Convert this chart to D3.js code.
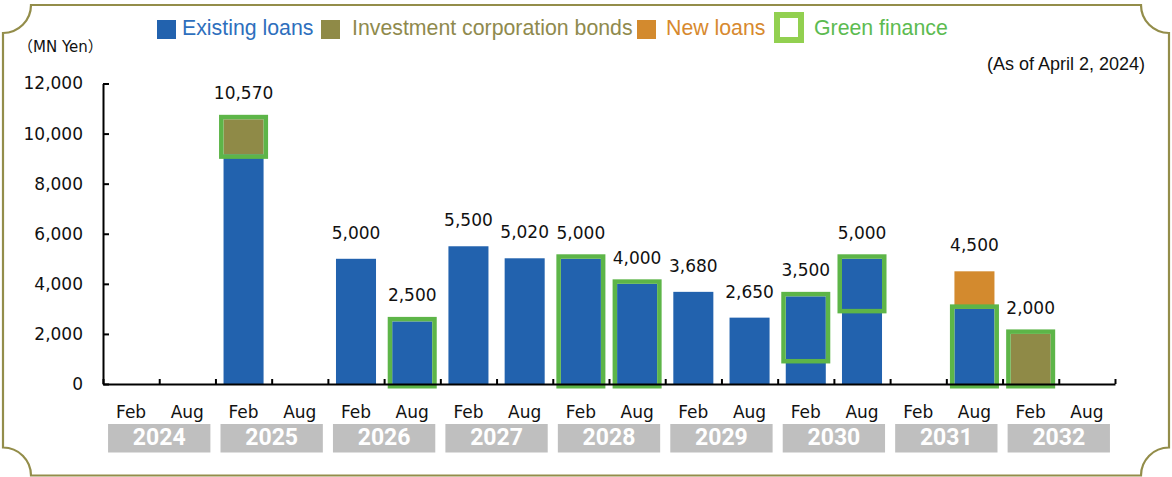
<!DOCTYPE html>
<html>
<head>
<meta charset="utf-8">
<script src="https://cdn.jsdelivr.net/npm/d3@7/dist/d3.min.js"></script>
<style>
  html, body { margin: 0; padding: 0; background: #fff; }
  svg { display: block; }
</style>
</head>
<body>
<svg id="chart" width="1172" height="477"></svg>
<script>
// ---------------- DATA ----------------
const years = ["2024", "2025", "2026", "2027", "2028", "2029", "2030", "2031", "2032"];
const halves = ["Feb", "Aug"];
// one value per half-year slot (Feb 2024 ... Aug 2032), MN Yen
const existingLoans = [0, 0, 9170, 0, 5000, 2500, 5500, 5020, 5000, 4000, 3680, 2650, 3500, 5000, 0, 3000, 0, 0];
const investmentCorporationBonds = [0, 0, 1400, 0, 0, 0, 0, 0, 0, 0, 0, 0, 0, 0, 0, 0, 2000, 0];
const newLoans = [0, 0, 0, 0, 0, 0, 0, 0, 0, 0, 0, 0, 0, 0, 0, 1500, 0, 0];
// green finance portion: value range [from, to] inside the stacked bar (null = none)
const greenFrom = [null, null, 9170, null, null, 0, null, null, 0, 0, null, null, 1000, 3000, null, 0, 0, null];
const greenTo   = [null, null, 10570, null, null, 2500, null, null, 5000, 4000, null, null, 3500, 5000, null, 3000, 2000, null];
const yTicks = [0, 2000, 4000, 6000, 8000, 10000, 12000];
const legendLabels = ["Existing loans", "Investment corporation bonds", "New loans", "Green finance"];
const unitLabel = "（MN Yen）";
const asOfLabel = "(As of April 2, 2024)";

// ---------------- SETUP ----------------
const colors = { existing: "#2262ae", bonds: "#8f8a47", newLoans: "#d38a2e", green: "#5db548" };
const svg = d3.select("#chart");
const plot = { left: 103, right: 1115, top: 83.5, bottom: 384 };

const slots = [];
years.forEach(y => halves.forEach(h => slots.push(y + " " + h)));

const x = d3.scaleBand().domain(slots).range([plot.left, plot.right])
  .paddingInner(0.288).paddingOuter(0.144);
const xYear = d3.scaleBand().domain(years).range([plot.left, plot.right])
  .paddingInner(0.09).paddingOuter(0.045);
const xIdx = d3.scaleLinear().domain([0, slots.length]).range([plot.left, plot.right]);
const y = d3.scaleLinear().domain([0, 12000]).range([plot.bottom, plot.top]);

// ---------------- FRAME ----------------
const fL = 3, fR = 1169, fT = 5, fB = 475.5, r = 28;
svg.append("path")
  .attr("d", `M${fL + r},${fT} L${fR - r},${fT} A${r},${r} 0 0 0 ${fR},${fT + r} L${fR},${fB - r} A${r},${r} 0 0 0 ${fR - r},${fB} L${fL + r},${fB} A${r},${r} 0 0 0 ${fL},${fB - r} L${fL},${fT + r} A${r},${r} 0 0 0 ${fL + r},${fT} Z`)
  .attr("fill", "none").attr("stroke", "#938d4a").attr("stroke-width", 2.2);

// ---------------- BARS ----------------
const data = slots.map((s, i) => ({
  slot: s,
  existing: existingLoans[i],
  bonds: investmentCorporationBonds[i],
  newLoans: newLoans[i],
  gFrom: greenFrom[i],
  gTo: greenTo[i]
}));
const stack = d3.stack().keys(["existing", "bonds", "newLoans"]);
const series = stack(data);
const fillFor = { existing: colors.existing, bonds: colors.bonds, newLoans: colors.newLoans };

const gBars = svg.append("g");
series.forEach(ser => {
  gBars.selectAll(null).data(ser.filter(d => d[1] > d[0]))
    .join("rect")
    .attr("x", d => x(d.data.slot))
    .attr("width", x.bandwidth())
    .attr("y", d => y(d[1]))
    .attr("height", d => y(d[0]) - y(d[1]))
    .attr("fill", fillFor[ser.key]);
});

// green finance outlines
const sw = 4.5;
gBars.selectAll(null).data(data.filter(d => d.gFrom !== null))
  .join("rect")
  .attr("x", d => x(d.slot) - sw / 2)
  .attr("width", x.bandwidth() + sw)
  .attr("y", d => y(d.gTo) - sw / 2)
  .attr("height", d => y(d.gFrom) - y(d.gTo) + sw)
  .attr("fill", "none")
  .attr("stroke", colors.green)
  .attr("stroke-width", sw);

// value labels
const fmt = d3.format(",");
svg.append("g").selectAll("text")
  .data(data.filter(d => d.existing + d.bonds + d.newLoans > 0))
  .join("text")
  .attr("x", d => x(d.slot) + x.bandwidth() / 2)
  .attr("y", d => y(d.existing + d.bonds + d.newLoans) - 25)
  .attr("text-anchor", "middle")
  .attr("dominant-baseline", "middle")
  .attr("font-family", "DejaVu Sans, Verdana, sans-serif")
  .attr("font-size", 17)
  .attr("fill", "#111")
  .text(d => fmt(d.existing + d.bonds + d.newLoans));

// ---------------- AXES ----------------
const yAxis = d3.axisLeft(y).tickValues(yTicks).tickFormat(fmt).tickSizeInner(-6).tickSizeOuter(0).tickPadding(20);
const gy = svg.append("g").attr("transform", `translate(${plot.left},0)`).call(yAxis);
gy.select(".domain").attr("stroke", "#000").attr("stroke-width", 2);
gy.selectAll(".tick line").attr("stroke", "#000").attr("stroke-width", 2);
gy.selectAll(".tick text").attr("font-family", "DejaVu Sans, Verdana, sans-serif").attr("font-size", 17).attr("fill", "#111");

const xAxis = d3.axisBottom(xIdx).tickValues(d3.range(slots.length + 1)).tickFormat("").tickSizeInner(-5).tickSizeOuter(0);
const gx = svg.append("g").attr("transform", `translate(0,${plot.bottom})`).call(xAxis);
gx.select(".domain").attr("stroke", "#000").attr("stroke-width", 2.2);
gx.selectAll(".tick line").attr("stroke", "#000").attr("stroke-width", 2);

// Feb / Aug labels
svg.append("g").selectAll("text").data(slots).join("text")
  .attr("x", s => x(s) + x.bandwidth() / 2)
  .attr("y", 413)
  .attr("text-anchor", "middle")
  .attr("dominant-baseline", "middle")
  .attr("font-family", "DejaVu Sans, Verdana, sans-serif")
  .attr("font-size", 17)
  .attr("fill", "#111")
  .text(s => s.split(" ")[1]);

// year boxes
const gYear = svg.append("g");
gYear.selectAll("rect").data(years).join("rect")
  .attr("x", d => xYear(d)).attr("width", xYear.bandwidth())
  .attr("y", 424).attr("height", 28.5)
  .attr("fill", "#bfbfbf");
gYear.selectAll("text").data(years).join("text")
  .attr("x", d => xYear(d) + xYear.bandwidth() / 2)
  .attr("y", 439)
  .attr("text-anchor", "middle")
  .attr("dominant-baseline", "middle")
  .attr("font-family", "Roboto, Liberation Sans, sans-serif")
  .attr("font-weight", "bold")
  .attr("font-size", 23)
  .attr("fill", "#fff")
  .text(d => d);

// ---------------- TEXTS ----------------
svg.append("text").attr("x", 18).attr("y", 47)
  .attr("dominant-baseline", "middle")
  .attr("font-family", "DejaVu Sans, Noto Sans CJK JP, sans-serif").attr("font-size", 15).attr("fill", "#111")
  .text(unitLabel);
svg.append("text").attr("x", 1145).attr("y", 65)
  .attr("text-anchor", "end").attr("dominant-baseline", "middle")
  .attr("font-family", "Liberation Sans, Arial, sans-serif").attr("font-size", 18).attr("fill", "#111")
  .text(asOfLabel);

// ---------------- LEGEND ----------------
const legend = [
  { label: legendLabels[0], fill: colors.existing, text: "#2e6fbd", sx: 157, tx: 182, type: "fill" },
  { label: legendLabels[1], fill: colors.bonds, text: "#8f8a4d", sx: 321, tx: 352, type: "fill" },
  { label: legendLabels[2], fill: colors.newLoans, text: "#d7892e", sx: 637, tx: 666, type: "fill" },
  { label: legendLabels[3], fill: "#92d050", text: "#5cbb50", sx: 777, tx: 814, type: "outline" }
];
const gLeg = svg.append("g");
legend.forEach(l => {
  if (l.type === "fill") {
    gLeg.append("rect").attr("x", l.sx).attr("y", 20).attr("width", 19).attr("height", 19).attr("fill", l.fill);
  } else {
    gLeg.append("rect").attr("x", l.sx).attr("y", 15).attr("width", 24).attr("height", 25)
      .attr("fill", "#fff").attr("stroke", l.fill).attr("stroke-width", 6);
  }
  gLeg.append("text").attr("x", l.tx).attr("y", 35)
    .attr("font-family", "Liberation Sans, Arial, sans-serif").attr("font-size", 21.3)
    .attr("fill", l.text).text(l.label);
});
</script>
</body>
</html>
